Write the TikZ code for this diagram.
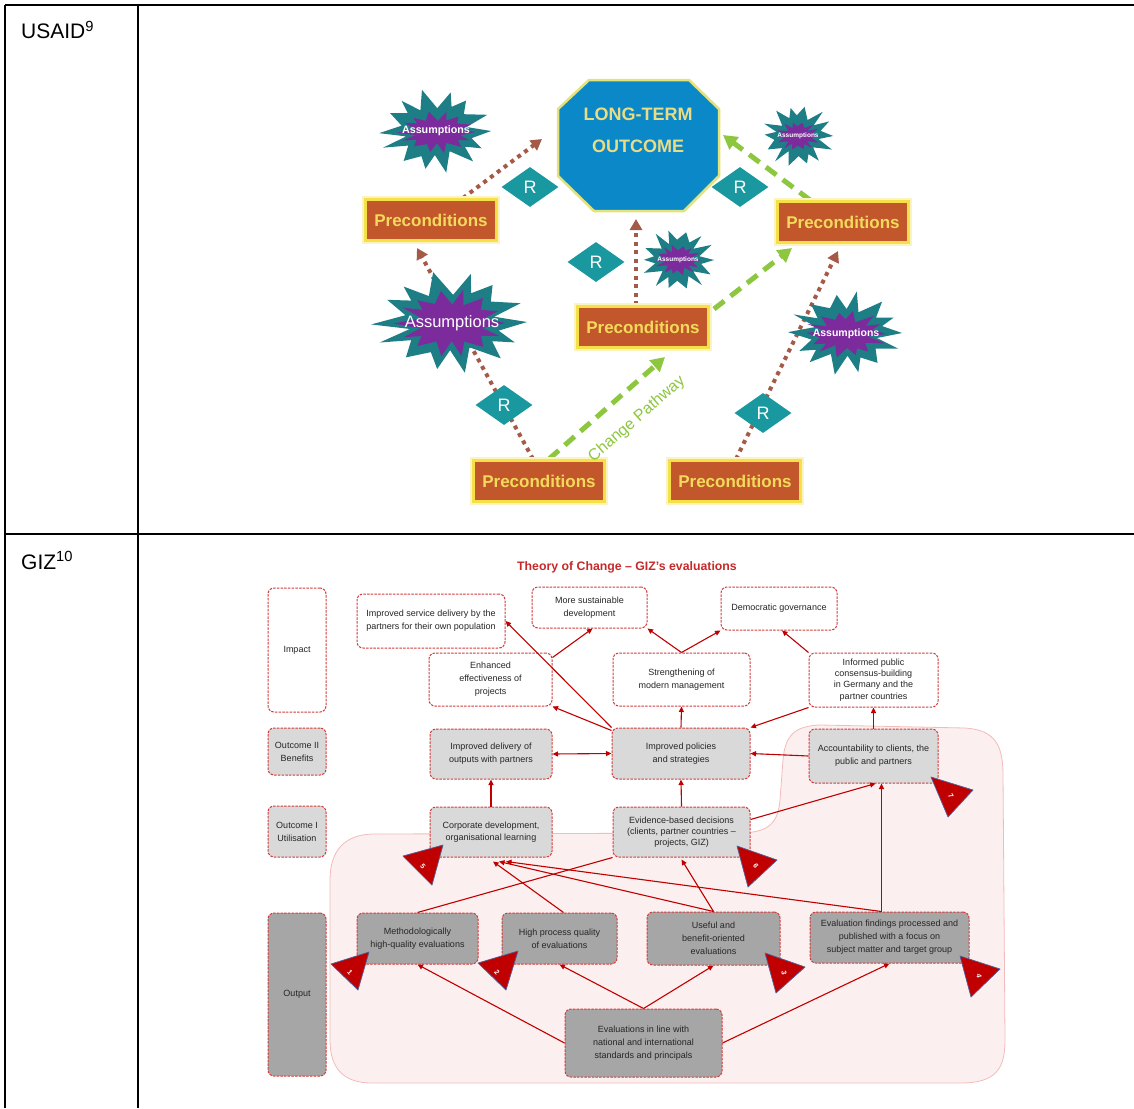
\documentclass[tikz,border=0pt]{standalone}
\usepackage{fontspec}
\setmainfont{Liberation Sans}
\usetikzlibrary{shapes.geometric,arrows.meta}

\definecolor{octblue}{HTML}{0A88C8}
\definecolor{octedge}{HTML}{E4E27A}
\definecolor{octtext}{HTML}{EADB85}
\definecolor{prefill}{HTML}{C2572B}
\definecolor{preedge}{HTML}{F5E04A}
\definecolor{pretext}{HTML}{F3DA5C}
\definecolor{rteal}{HTML}{1A98A0}
\definecolor{burstteal}{HTML}{1E7E86}
\definecolor{burstpurple}{HTML}{7C2B9C}
\definecolor{dotbrown}{HTML}{A55A48}
\definecolor{pathgreen}{HTML}{8DC63F}
\definecolor{gizred}{HTML}{C00000}
\definecolor{boxred}{HTML}{D23C3C}
\definecolor{lightgrey}{HTML}{D9D9D9}
\definecolor{darkgrey}{HTML}{A6A6A6}
\definecolor{blobfill}{HTML}{FCEFEF}
\definecolor{blobedge}{HTML}{F2BCBC}
\definecolor{markedge}{HTML}{50609A}
\definecolor{titlered}{HTML}{C62A2A}

% spiky "Assumptions" burst: centre x, centre y, x radius, y radius, colour, phase
\newcommand\burst[6]{%
  \begin{scope}[shift={(#1,#2)},xscale=#3,yscale=#4]
    \fill[#5] (0:0.95) \foreach \k in {1,...,27}{
      -- ({\k*360/28+3*sin(\k*71+#6)}:{0.77+0.18*cos(\k*180)+0.06*sin(\k*131+#6)}) } -- cycle;
  \end{scope}}

\tikzset{
  frame/.style={line width=2pt, black},
  rowlabel/.style={font=\fontsize{21}{24}\selectfont, inner sep=0pt},
  precond/.style={rectangle, fill=prefill, draw=preedge, line width=3pt,
    preaction={draw=preedge!35, line width=7pt},
    text=pretext, font=\bfseries\fontsize{17}{20}\selectfont,
    minimum width=131pt, minimum height=41pt, inner sep=0pt},
  rdiam/.style={diamond, fill=rteal, text=white, font=\fontsize{18}{20}\selectfont,
    minimum width=57pt, minimum height=40pt, inner sep=0pt, shape aspect=1.4},
  asm/.style={text=white, inner sep=0pt},
  brownarrow/.style={dotbrown, line width=4pt, dash pattern=on 4pt off 4.5pt,
    -{Triangle[length=11pt,width=12pt]}},
  greenarrow/.style={pathgreen, line width=5pt, dash pattern=on 13pt off 8pt,
    -{Triangle[length=14pt,width=15pt]}},
  gbox/.style={rectangle, rounded corners=6pt, draw=boxred, dash pattern=on 2.5pt off 1.2pt,
    line width=1pt, align=center, font=\fontsize{9}{13}\selectfont, text=black!85,
    inner sep=1pt},
  gwhite/.style={gbox, fill=white},
  glight/.style={gbox, fill=lightgrey},
  gdark/.style={gbox, fill=darkgrey},
  gline/.style={gizred, line width=1.1pt},
  garrow/.style={gline, -{Triangle[length=5.5pt,width=5pt]}},
  gboth/.style={gline, {Triangle[length=5.5pt,width=5pt]}-{Triangle[length=5.5pt,width=5pt]}},
  mark text/.style={text=white, font=\bfseries\fontsize{7}{8}\selectfont, inner sep=0pt},
  marktri/.style={fill=gizred, draw=markedge, line width=0.7pt, line join=round}
}

\begin{document}
\begin{tikzpicture}[x=1pt,y=-1pt]
\useasboundingbox (0,0) rectangle (1134,1108);
\fill[white] (0,0) rectangle (1134,1108);

% ---------- table frame ----------
\draw[frame] (5,5) -- (1134,5);
\draw[frame] (5,5) -- (5,1108);
\draw[frame] (138,5) -- (138,1108);
\draw[frame] (5,534) -- (1134,534);
\node[rowlabel, anchor=base west] (lblusaid) at (21,39) {USAID\textsuperscript{9}};
\node[rowlabel, anchor=base west] (lblgiz) at (21,569) {GIZ\textsuperscript{10}};

% ---------- USAID change pathway ----------
\node[precond] (p1) at (431,220) {Preconditions};
\node[precond] (p2) at (843,222) {Preconditions};
\node[precond] (p3) at (643,327) {Preconditions};
\node[precond] (p4) at (539,481) {Preconditions};
\node[precond] (p5) at (735,481) {Preconditions};
\node[minimum width=161pt, minimum height=131pt, inner sep=0pt] (oct) at (638,145) {};

\coordinate (octL) at (542,139);
\coordinate (octB) at (636,219);
\coordinate (octR) at (723,135);
\coordinate (p2in) at (792,248);

% connectors (drawn below the shapes)
\draw[brownarrow] ([xshift=32pt]p1.north) -- (octL);
\draw[brownarrow] ([xshift=-6pt]p4.north) -- ([xshift=-14pt,yshift=-6pt]p1.south);
\draw[brownarrow] ([xshift=-7pt]p3.north) -- (octB);
\draw[brownarrow] ([xshift=1pt]p5.north) -- ([xshift=-5pt,yshift=-7pt]p2.south);
\draw[greenarrow] ([xshift=10pt]p4.north) -- ([xshift=22pt,yshift=-8pt]p3.south);
\draw[greenarrow] ([xshift=4pt,yshift=-4pt]p3.north east) -- (p2in);
\draw[greenarrow] ([xshift=-33pt]p2.north) -- (octR);

% redraw the boxes over the connector ends
\node[precond] at (p1) {Preconditions};
\node[precond] at (p2) {Preconditions};
\node[precond] at (p3) {Preconditions};
\node[precond] at (p4) {Preconditions};
\node[precond] at (p5) {Preconditions};

% long-term outcome octagon
\fill[octblue, draw=octedge, line width=2.5pt, line join=round]
  (589,80) -- (689,80) -- (719,109) -- (719,176) -- (684,211) -- (594,211)
  -- (558,176) -- (558,109) -- cycle;
\node[text=octtext, font=\bfseries\fontsize{18}{32}\selectfont, align=center] (octtext) at (638,130)
  {LONG-TERM\\OUTCOME};

% assumptions bursts
\burst{436}{131}{58}{42}{burstteal}{0}
\burst{437}{132}{40}{21}{burstpurple}{40}
\node[asm, font=\bfseries\fontsize{10.7}{12}\selectfont] (a1) at (436,131) {Assumptions};

\burst{451}{322}{80}{51}{burstteal}{20}
\burst{451}{323}{57}{34}{burstpurple}{70}
\node[asm, font=\fontsize{16.5}{20}\selectfont] (a4) at (452,323) {Assumptions};

\burst{846}{333}{59}{42}{burstteal}{110}
\burst{846}{334}{42}{24}{burstpurple}{150}
\node[asm, font=\bfseries\fontsize{10.5}{12}\selectfont] (a5) at (846,334) {Assumptions};

\burst{798}{136}{37}{32}{burstteal}{200}
\burst{798}{136}{23}{15}{burstpurple}{230}
\node[asm, font=\bfseries\fontsize{6.5}{8}\selectfont] (a2) at (798,136) {Assumptions};

\burst{678}{260}{38}{32}{burstteal}{260}
\burst{678}{260}{24}{16}{burstpurple}{300}
\node[asm, font=\bfseries\fontsize{6.5}{8}\selectfont] (a3) at (678,260) {Assumptions};

% R diamonds
\node[rdiam] (r1) at (530,187) {R};
\node[rdiam] (r2) at (740,187) {R};
\node[rdiam] (r3) at (596,262) {R};
\node[rdiam] (r4) at (504,405) {R};
\node[rdiam] (r5) at (763,413) {R};

\node[rotate=41, text=pathgreen, font=\fontsize{16}{19}\selectfont, inner sep=0pt] (cp) at (637,419)
  {Change Pathway};

% ---------- GIZ theory of change ----------
\draw[blobedge, fill=blobfill, line width=0.8pt]
  (372,834) -- (742,833) .. controls (770,832) and (778,822) .. (780,800)
  -- (783,760) .. controls (785,735) and (795,726) .. (820,725)
  -- (965,728) .. controls (995,730) and (1003,745) .. (1003,775)
  -- (1005,1040) .. controls (1005,1070) and (995,1083) .. (960,1083)
  -- (372,1083) .. controls (345,1083) and (330,1070) .. (330,1040)
  -- (330,880) .. controls (330,850) and (345,835) .. (372,834) -- cycle;

\node[text=titlered, font=\bfseries\fontsize{12.3}{14}\selectfont] (title) at (627,567)
  {Theory of Change – GIZ’s evaluations};

% level labels
\node[gwhite, minimum width=58pt, minimum height=124pt] (impact) at (297,650) {Impact};
\node[glight, minimum width=58pt, minimum height=47pt] (out2) at (297,751.5) {Outcome II\\Benefits};
\node[glight, minimum width=58pt, minimum height=51pt] (out1) at (297,831.5) {Outcome I\\Utilisation};
\node[gdark, minimum width=58pt, minimum height=163pt] (output) at (297,994.5) {Output};

% impact
\node[gwhite, minimum width=148pt, minimum height=54pt] (isd) at (431,621)
  {Improved service delivery by the\\partners for their own population};
\node[gwhite, minimum width=115pt, minimum height=41pt] (msd) at (589.5,607.5)
  {More sustainable\\development};
\node[gwhite, minimum width=116pt, minimum height=43pt] (dg) at (779,608.5)
  {Democratic governance};
\node[gwhite, minimum width=123pt, minimum height=53pt] (eep) at (490.5,679.5)
  {Enhanced\\effectiveness of\\projects};
\node[gwhite, minimum width=137pt, minimum height=53pt] (smm) at (681.5,679.5)
  {Strengthening of\\modern management};
\node[gwhite, minimum width=129pt, minimum height=54pt, font=\fontsize{9}{11.3}\selectfont] (ipc) at (873.5,680)
  {Informed public\\consensus-building\\in Germany and the\\partner countries};

% outcome II
\node[glight, minimum width=122pt, minimum height=50pt] (idp) at (491,754)
  {Improved delivery of\\outputs with partners};
\node[glight, minimum width=138pt, minimum height=51pt] (ips) at (681,753.5)
  {Improved policies\\and strategies};
\node[glight, minimum width=129pt, minimum height=54pt] (acc) at (873.5,756)
  {Accountability to clients, the\\public and partners};

% outcome I
\node[glight, minimum width=122pt, minimum height=50pt, font=\fontsize{9}{11.5}\selectfont] (cdl) at (491,832)
  {Corporate development,\\organisational learning};
\node[glight, minimum width=137pt, minimum height=50pt, font=\fontsize{9}{11}\selectfont] (ebd) at (681.5,832)
  {Evidence-based decisions\\(clients, partner countries –\\projects, GIZ)};

% output
\node[gdark, minimum width=121pt, minimum height=51pt] (mhq) at (417.5,938.5)
  {Methodologically\\high-quality evaluations};
\node[gdark, minimum width=115pt, minimum height=51pt] (hpq) at (559.5,938.5)
  {High process quality\\of evaluations};
\node[gdark, minimum width=133pt, minimum height=53pt] (ubo) at (713.5,938.5)
  {Useful and\\benefit-oriented\\evaluations};
\node[gdark, minimum width=159pt, minimum height=51pt] (efp) at (889.5,937.5)
  {Evaluation findings processed and\\published with a focus on\\subject matter and target group};
\node[gdark, minimum width=157pt, minimum height=68pt] (eil) at (643.5,1043)
  {Evaluations in line with\\national and international\\standards and principals};

% connectors
\draw[garrow] (ips.north west) -- (isd.east);
\draw[garrow] ([yshift=-5pt]eep.north east) -- ([xshift=3pt]msd.south);
\draw[garrow] (smm.north) -- (msd.south east);
\draw[garrow] (smm.north) -- (dg.south west);
\draw[garrow] (ipc.north west) -- ([xshift=3pt]dg.south);
\draw[garrow] ([yshift=-3pt]ips.north west) -- (eep.south east);
\draw[garrow] (ips.north) -- (smm.south);
\draw[garrow] (ipc.south west) -- (ips.north east);
\draw[garrow] (acc.north) -- (ipc.south);
\draw[garrow] (acc.west) -- (ips.east);
\draw[gboth] (idp.east) -- (ips.west);
\draw[garrow] (cdl.north) -- (idp.south);
\draw[garrow] (ebd.north) -- (ips.south);
\draw[garrow] ([yshift=-13pt]ebd.north east) -- ([xshift=2pt]acc.south);
\draw[garrow] ([xshift=-8pt]efp.north) -- ([xshift=8pt]acc.south);
\draw[garrow] ([xshift=4pt]hpq.north) -- ([xshift=2pt,yshift=-4pt]cdl.south);
\draw[garrow] (ubo.north) -- ([xshift=8pt,yshift=-4pt]cdl.south);
\draw[garrow] ([xshift=-8pt]efp.north) -- ([xshift=15pt,yshift=-4pt]cdl.south);
\draw[gline] (mhq.north) -- (ebd.south west);
\draw[garrow] (ubo.north) -- ([yshift=-2pt]ebd.south);
\draw[garrow] (eil.west) -- (mhq.south);
\draw[garrow] (eil.north) -- (hpq.south);
\draw[garrow] (eil.north) -- (ubo.south);
\draw[garrow] (eil.east) -- (efp.south);

% numbered markers
\draw[marktri] (331,964) -- (369,952) -- (358,990) -- cycle;
\node[mark text, rotate=-50] (m1) at (350,972) {1};
\draw[marktri] (478,963) -- (518,951) -- (506,990) -- cycle;
\node[mark text, rotate=-50] (m2) at (497,972) {2};
\draw[marktri] (765,953) -- (805,967) -- (776,993) -- cycle;
\node[mark text, rotate=-80] (m3) at (784,973) {3};
\draw[marktri] (960,956) -- (1000,969) -- (971,997) -- cycle;
\node[mark text, rotate=-80] (m4) at (979,976) {4};
\draw[marktri] (403,856) -- (443,845) -- (432,885) -- cycle;
\node[mark text, rotate=-50] (m5) at (423,866) {5};
\draw[marktri] (737,846) -- (777,860) -- (748,887) -- cycle;
\node[mark text, rotate=-60] (m6) at (756,866) {6};
\draw[marktri] (931,777) -- (973,790) -- (948,817) -- cycle;
\node[mark text, rotate=-60] (m7) at (951,796) {7};

\end{tikzpicture}
\end{document}
